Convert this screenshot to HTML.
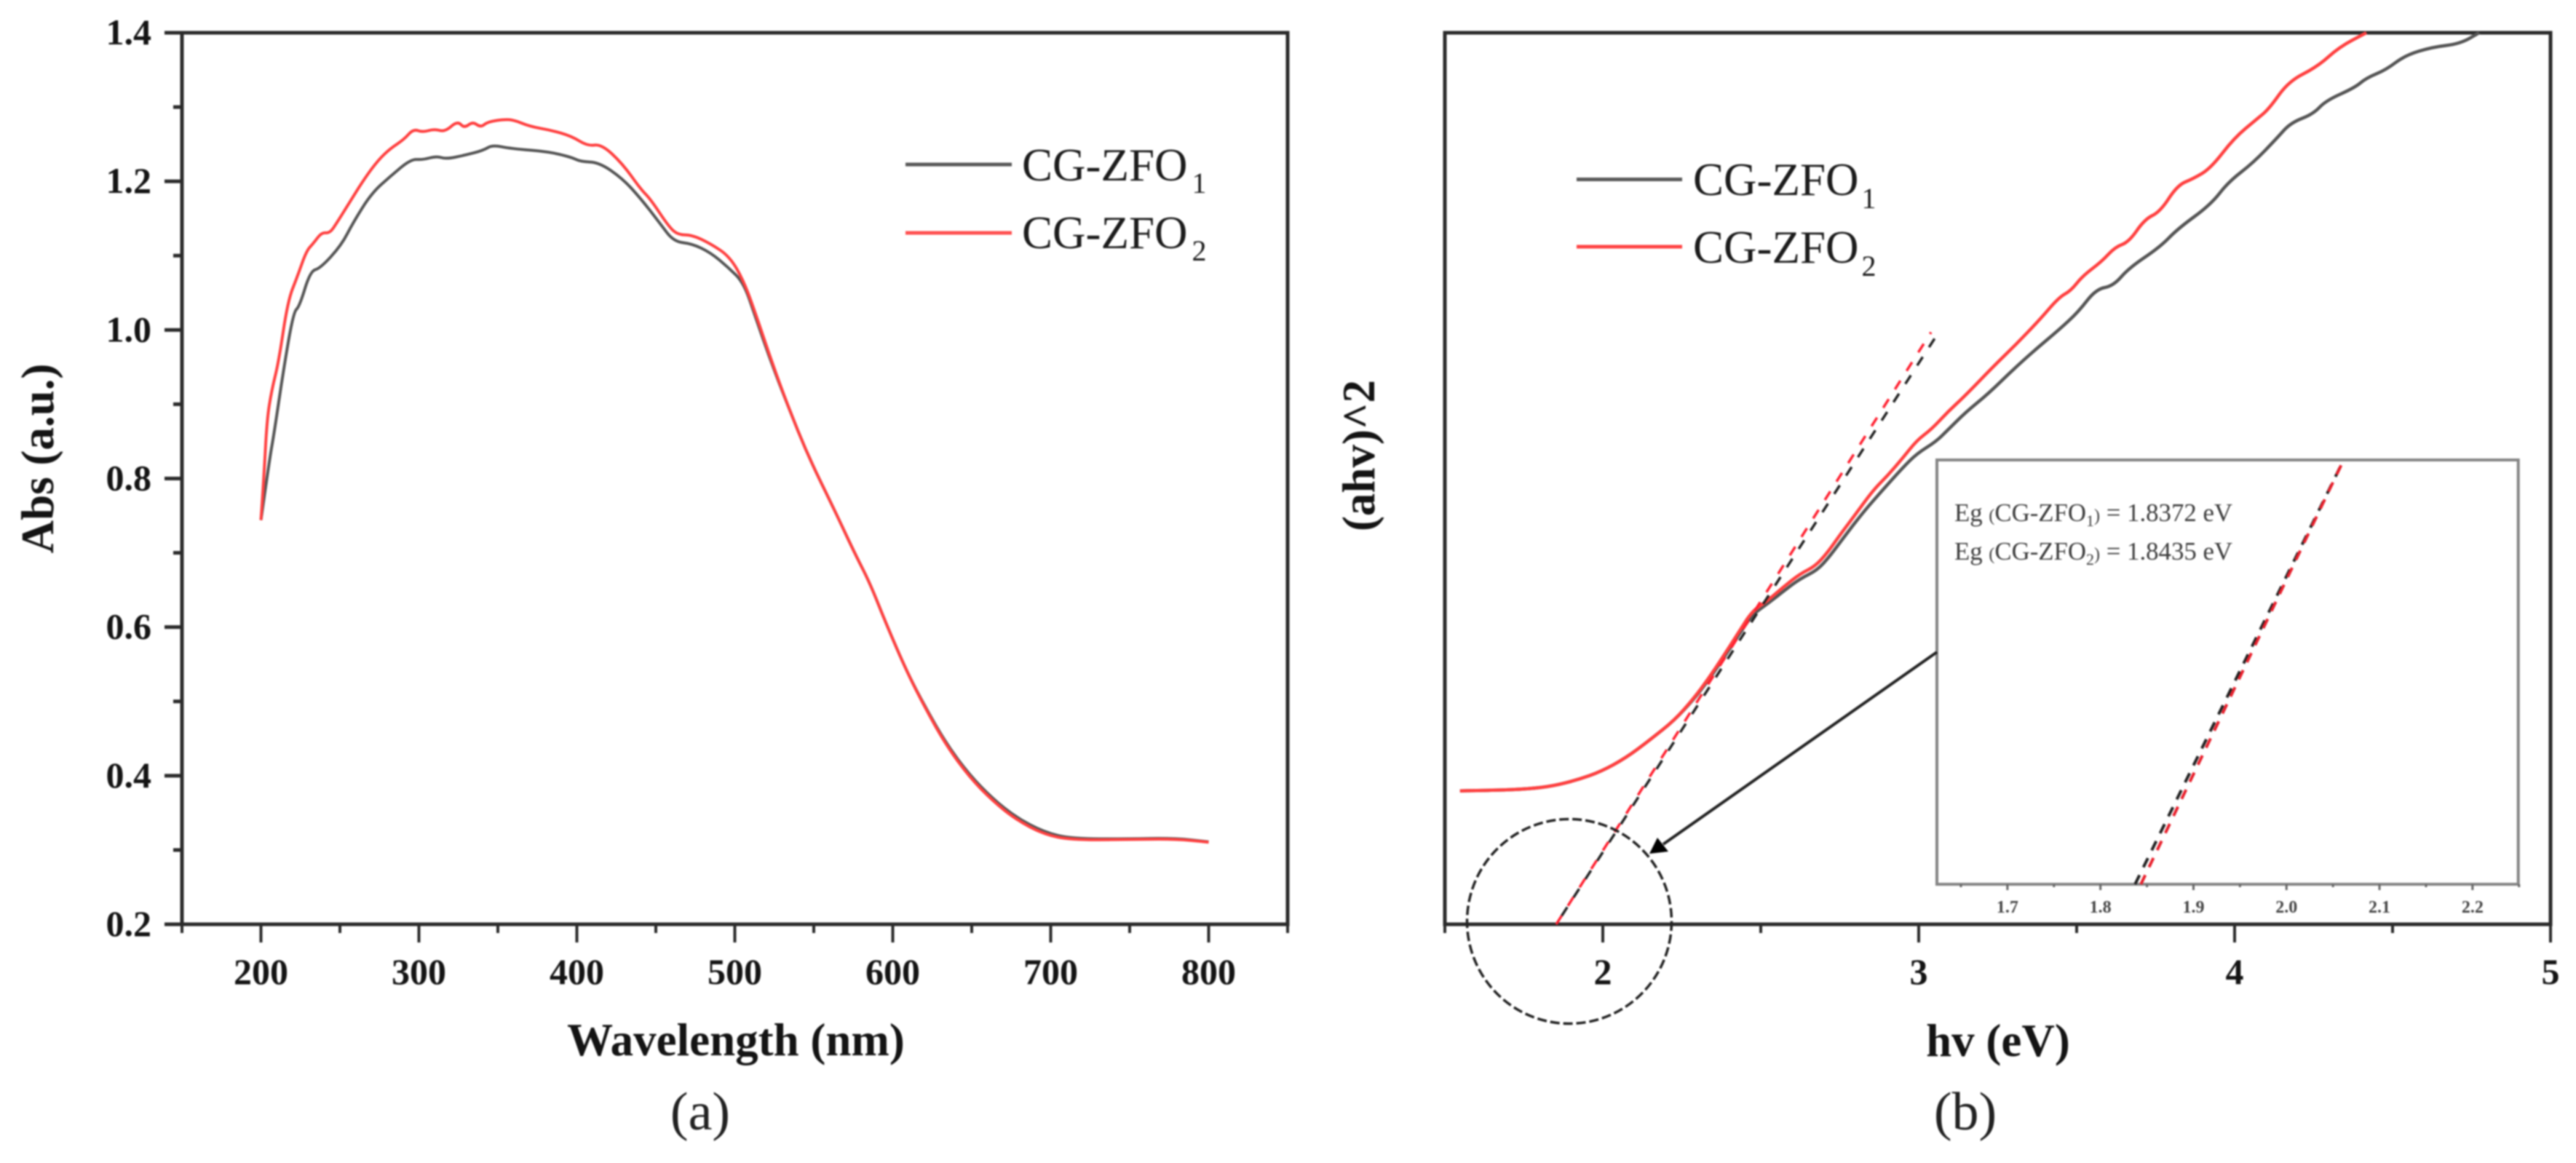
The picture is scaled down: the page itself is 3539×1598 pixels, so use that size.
<!DOCTYPE html>
<html lang="en">
<head>
<meta charset="utf-8">
<title>Absorbance and Tauc plots</title>
<style>
html,body{margin:0;padding:0;background:#fff;}
body{width:3539px;height:1598px;overflow:hidden;}
svg{display:block;filter:blur(1px);}
text{font-family:"Liberation Serif",serif;fill:#141414;}
.tick{font-size:50px;font-weight:bold;}
.title{font-size:63px;font-weight:bold;}
.panel{font-size:74px;fill:#222;}
.legend{font-size:63px;fill:#1c1c1c;}
.inset-note{font-size:34.8px;fill:#3c3c3c;}
</style>
</head>
<body>
<svg id="figure" xmlns="http://www.w3.org/2000/svg" width="3539" height="1598" viewBox="0 0 3539 1598">
  <rect x="0" y="0" width="3539" height="1598" fill="#ffffff"/>
  <g id="panel-a"></g>
  <g id="panel-b"></g>

  <text class="title" x="1011" y="1450" text-anchor="middle">Wavelength (nm)</text>
  <text class="title" transform="translate(73 630) rotate(-90)" text-anchor="middle">Abs (a.u.)</text>
  <text class="panel" x="962" y="1552" text-anchor="middle">(a)</text>

  <text class="title" x="2745" y="1451" text-anchor="middle">hv (eV)</text>
  <text class="title" transform="translate(1888 626) rotate(-90)" text-anchor="middle">(ahv)^2</text>
  <text class="panel" x="2700" y="1552" text-anchor="middle">(b)</text>

  <g>
    <line x1="1244" y1="226" x2="1390" y2="226" stroke="#5a5a5a" stroke-width="5"/>
    <text class="legend" x="1404" y="248">CG-ZFO<tspan font-size="40" dx="6" dy="17">1</tspan></text>
    <line x1="1244" y1="320" x2="1390" y2="320" stroke="#ff5050" stroke-width="5"/>
    <text class="legend" x="1404" y="341">CG-ZFO<tspan font-size="40" dx="6" dy="17">2</tspan></text>
  </g>
  <g>
    <line x1="2166" y1="246.5" x2="2311" y2="246.5" stroke="#5a5a5a" stroke-width="5"/>
    <text class="legend" x="2326" y="268">CG-ZFO<tspan font-size="40" dx="4" dy="18">1</tspan></text>
    <line x1="2166" y1="339" x2="2311" y2="339" stroke="#ff4545" stroke-width="5"/>
    <text class="legend" x="2326" y="361">CG-ZFO<tspan font-size="40" dx="4" dy="18">2</tspan></text>
  </g>

  <text class="inset-note" x="2685" y="716">Eg <tspan font-size="24">(</tspan>CG-ZFO<tspan font-size="22" dy="7">1</tspan><tspan font-size="24" dy="-7">)</tspan> = 1.8372 eV</text>
  <text class="inset-note" x="2685" y="769">Eg <tspan font-size="24">(</tspan>CG-ZFO<tspan font-size="22" dy="7">2</tspan><tspan font-size="24" dy="-7">)</tspan> = 1.8435 eV</text>

  <circle cx="2156" cy="1266" r="140.5" fill="none" stroke="#222" stroke-width="3.5" stroke-dasharray="13 5"/>
  <line x1="2661" y1="896" x2="2285" y2="1160" stroke="#222" stroke-width="4"/>
  <polygon points="2266,1173 2277,1151 2292,1170" fill="#000"/>
</svg>

<script>
// ---------- Panel (a): absorbance spectra ----------
const aXMajor = [200, 300, 400, 500, 600, 700, 800];
const aXMinor = [150, 250, 350, 450, 550, 650, 750, 850];
const aYMajor = [0.2, 0.4, 0.6, 0.8, 1.0, 1.2, 1.4];
const aYMinor = [0.3, 0.5, 0.7, 0.9, 1.1, 1.3];

const wavelengthRed = [200,201.8,203.8,206.8,211.2,217,223,228.8,233.2,238.5,243.5,248,255.3,265.6,274.4,281.8,290.6,296.5,302.4,309.7,316.5,324.4,328.8,334.1,339.1,343.5,352.4,359.7,370,383.2,396.5,406.8,415.6,428.8,440.6,446.5,458.2,464.1,472.9,484.7,496.7,505.5,512.8,523.1,533.4,546.7,562.8,576,585.4,595.7,608.9,620.7,633.9,648.6,663.3,678,695.7,713.3,748.6,778,800];
const absRed = [0.744,0.799,0.879,0.919,0.9565,1.039,1.0715,1.1065,1.1165,1.1315,1.13,1.144,1.169,1.204,1.229,1.244,1.2565,1.2705,1.266,1.2705,1.2665,1.2815,1.2715,1.2805,1.2725,1.28,1.283,1.283,1.274,1.269,1.261,1.2475,1.25,1.224,1.189,1.1765,1.139,1.128,1.128,1.116,1.099,1.0665,1.024,0.959,0.899,0.829,0.759,0.699,0.66,0.605,0.54,0.4905,0.4407,0.398,0.366,0.341,0.321,0.3135,0.314,0.315,0.3105];

const wavelengthGray = [200,205.3,208.2,214.1,220.6,224.4,231.2,237.6,250.9,258.2,270,281.8,295,302.4,311.2,317.1,328.8,340.6,346.5,358.2,381.8,396.5,402.4,414.1,428.8,440.6,452.4,461.2,472.9,484.7,495.9,505.5,512.8,523,533.4,546.7,562.8,576,585.4,595.7,608.9,620.7,633.9,648.6,663.3,678,695.7,713.3,748.6,778,800];
const absGray = [0.744,0.824,0.859,0.944,1.024,1.0315,1.079,1.083,1.114,1.144,1.184,1.2065,1.23,1.229,1.234,1.23,1.235,1.2415,1.249,1.244,1.24,1.2325,1.2265,1.2255,1.204,1.1765,1.144,1.119,1.116,1.104,1.084,1.064,1.019,0.9565,0.899,0.829,0.759,0.699,0.66,0.605,0.54,0.492,0.443,0.401,0.369,0.344,0.324,0.315,0.315,0.316,0.311];

// ---------- Panel (b): Tauc plot ----------
const bXMajor = [2, 3, 4, 5];
const bXMinor = [1.5, 2.5, 3.5, 4.5];

const hvRed = [1.548,1.656,1.765,1.842,1.919,1.995,2.072,2.149,2.226,2.287,2.333,2.379,2.426,2.472,2.518,2.571,2.625,2.671,2.71,2.748,2.794,2.856,2.902,2.948,2.994,3.04,3.094,3.148,3.234,3.308,3.382,3.444,3.481,3.518,3.579,3.622,3.665,3.715,3.764,3.819,3.869,3.924,3.998,4.072,4.109,4.171,4.263,4.331,4.417];
const tauRed = [14.96,15.03,15.18,15.51,16.19,17.14,18.64,20.68,22.86,25.31,27.48,29.93,32.52,35.1,36.19,37.82,39.32,40.13,41.63,43.54,45.71,48.71,50.34,52.24,54.28,55.51,57.55,59.32,62.49,65.04,67.77,70.32,71.05,72.69,74.33,75.97,76.52,79.07,79.91,82.9,83.63,84.79,88.18,90.37,91.46,94.56,96.2,98.39,100];

const hvGray = [1.548,1.656,1.765,1.842,1.919,1.995,2.072,2.149,2.226,2.287,2.333,2.379,2.426,2.472,2.525,2.579,2.625,2.679,2.717,2.763,2.825,2.886,2.948,2.994,3.055,3.094,3.148,3.222,3.296,3.37,3.444,3.505,3.561,3.616,3.665,3.764,3.819,3.924,3.98,4.06,4.134,4.177,4.25,4.288,4.38,4.417,4.479,4.54,4.626,4.713,4.774];
const tauGray = [14.96,15.03,15.18,15.51,16.19,17.14,18.64,20.68,22.86,25.2,27.3,29.7,32.2,34.7,36.05,37.55,38.77,39.73,41.22,43.4,46.26,48.71,51.16,52.79,54.15,55.51,57.41,59.57,62.12,64.49,66.68,68.68,71.24,71.6,73.6,75.97,77.98,80.71,83.26,85.45,88.18,89.89,90.91,92.37,93.83,94.92,95.84,97.47,98.39,98.75,100];

const fitHvGray = [1.8525, 3.069];
const fitTauGray = [0, 66.72];
const fitHvRed = [1.8525, 3.039];
const fitTauRed = [0, 66.4];

// ---------- Inset ----------
const inXMajor = ['1.7','1.8','1.9','2.0','2.1','2.2'];
const inXMinor = [1.65,1.75,1.85,1.95,2.05,2.15,2.25];
const inFitHvGray = [1.8372, 2.0615];
const inFitHvRed = [1.8435, 2.0615];
const inFitLevel = [0, 1];

// ---------- Scales ----------
function linear(d0, d1, r0, r1) {
  return function (v) { return r0 + (v - d0) * (r1 - r0) / (d1 - d0); };
}
const xA = linear(150, 850, 250, 1769);
const yA = linear(0.2, 1.4, 1270, 45);
const xB = linear(1.5, 5, 1985, 3504);
const yB = linear(0, 100, 1270, 45);
const xI = linear(1.6242, 2.2492, 2661, 3459.7);
const yI = linear(0, 1, 1215, 632);

const NS = 'http://www.w3.org/2000/svg';
const panelA = document.getElementById('panel-a');
const panelB = document.getElementById('panel-b');

function mk(parent, tag, props) {
  const node = document.createElementNS(NS, tag);
  for (const k in props) node.setAttribute(k, props[k]);
  parent.appendChild(node);
  return node;
}
function pointsOf(xs, ys, fx, fy) {
  return xs.map(function (v, i) { return fx(v).toFixed(1) + ',' + fy(ys[i]).toFixed(1); }).join(' ');
}
// Smooth line through the data: quadratic segments between point midpoints.
function smoothPath(xs, ys, fx, fy) {
  const px = xs.map(fx);
  const py = ys.map(fy);
  let d = 'M' + px[0].toFixed(1) + ' ' + py[0].toFixed(1);
  for (let i = 1; i < px.length - 1; i++) {
    const mx = (px[i] + px[i + 1]) / 2;
    const my = (py[i] + py[i + 1]) / 2;
    d += 'Q' + px[i].toFixed(1) + ' ' + py[i].toFixed(1) + ' ' + mx.toFixed(1) + ' ' + my.toFixed(1);
  }
  const n = px.length - 1;
  d += 'L' + px[n].toFixed(1) + ' ' + py[n].toFixed(1);
  return d;
}

// Frames
function frame(parent, x0, y0, x1, y1) {
  const el = mk(parent, 'rect', { x: x0, y: y0, width: x1 - x0, height: y1 - y0, fill: 'none', stroke: '#2b2b2b', 'stroke-width': 5 });
  
  
}
frame(panelA, xA(150), yA(1.4), xA(850), yA(0.2));
frame(panelB, xB(1.5), yB(100), xB(5), yB(0));

// Panel a ticks
aXMajor.forEach(function (v) {
  const t = mk(panelA, 'line', { x1: xA(v), x2: xA(v), y1: 1270, y2: 1295, stroke: '#2b2b2b', 'stroke-width': 4 });
  
  
  const l = mk(panelA, 'text', { class: 'tick', x: xA(v), y: 1352, 'text-anchor': 'middle' });
  l.textContent = String(v);
  
  
});
aXMinor.forEach(function (v) {
  const t = mk(panelA, 'line', { x1: xA(v), x2: xA(v), y1: 1270, y2: 1282, stroke: '#2b2b2b', 'stroke-width': 4 });
  
  
});
aYMajor.forEach(function (v) {
  const t = mk(panelA, 'line', { x1: 226, x2: 250, y1: yA(v), y2: yA(v), stroke: '#2b2b2b', 'stroke-width': 5 });
  
  
  const l = mk(panelA, 'text', { class: 'tick', x: 208, y: yA(v) + 16, 'text-anchor': 'end' });
  l.textContent = v.toFixed(1);
  
  
});
aYMinor.forEach(function (v) {
  const t = mk(panelA, 'line', { x1: 238, x2: 250, y1: yA(v), y2: yA(v), stroke: '#2b2b2b', 'stroke-width': 5 });
  
  
});

// Panel a series
const aGray = mk(panelA, 'path', { d: smoothPath(wavelengthGray, absGray, xA, yA), fill: 'none', stroke: '#555', 'stroke-width': 4, 'stroke-linejoin': 'round' });


const aRed = mk(panelA, 'path', { d: smoothPath(wavelengthRed, absRed, xA, yA), fill: 'none', stroke: '#ff4040', 'stroke-width': 4, 'stroke-linejoin': 'round' });



// Panel b ticks
bXMajor.forEach(function (v) {
  const t = mk(panelB, 'line', { x1: xB(v), x2: xB(v), y1: 1270, y2: 1295, stroke: '#2b2b2b', 'stroke-width': 4 });
  
  
  const l = mk(panelB, 'text', { class: 'tick', x: xB(v), y: 1352, 'text-anchor': 'middle' });
  l.textContent = String(v);
  
  
});
bXMinor.forEach(function (v) {
  const t = mk(panelB, 'line', { x1: xB(v), x2: xB(v), y1: 1270, y2: 1282, stroke: '#2b2b2b', 'stroke-width': 4 });
  
  
});

// Panel b series
const bGray = mk(panelB, 'path', { d: smoothPath(hvGray, tauGray, xB, yB), fill: 'none', stroke: '#555', 'stroke-width': 4.5, 'stroke-linejoin': 'round' });


const bRed = mk(panelB, 'path', { d: smoothPath(hvRed, tauRed, xB, yB), fill: 'none', stroke: '#ff4040', 'stroke-width': 4.5, 'stroke-linejoin': 'round' });



const fitGray = mk(panelB, 'polyline', { points: pointsOf(fitHvGray, fitTauGray, xB, yB), fill: 'none', stroke: '#222', 'stroke-width': 3.5, 'stroke-dasharray': '14 16', 'stroke-dashoffset': -14 });


const fitRed = mk(panelB, 'polyline', { points: pointsOf(fitHvRed, fitTauRed, xB, yB), fill: 'none', stroke: '#ff2030', 'stroke-width': 3.5, 'stroke-dasharray': '14 16' });



// Inset
const insetBox = mk(panelB, 'rect', { x: 2661, y: 632, width: 798.7, height: 583, fill: '#fff', stroke: '#858585', 'stroke-width': 4 });


inXMajor.forEach(function (s) {
  const v = parseFloat(s);
  const t = mk(panelB, 'line', { x1: xI(v), x2: xI(v), y1: 1215, y2: 1223, stroke: '#666', 'stroke-width': 3 });
  
  
  const l = mk(panelB, 'text', { x: xI(v), y: 1254, 'text-anchor': 'middle', 'font-size': 24, 'font-weight': 'bold', style: 'fill:#444' });
  l.textContent = s;
  
  
});
inXMinor.forEach(function (v) {
  const t = mk(panelB, 'line', { x1: xI(v), x2: xI(v), y1: 1215, y2: 1219, stroke: '#666', 'stroke-width': 3 });
  
  
});
const inGray = mk(panelB, 'polyline', { points: pointsOf(inFitHvGray, inFitLevel, xI, yI), fill: 'none', stroke: '#222', 'stroke-width': 4, 'stroke-dasharray': '14 12' });


const inRed = mk(panelB, 'polyline', { points: pointsOf(inFitHvRed, inFitLevel, xI, yI), fill: 'none', stroke: '#e8202c', 'stroke-width': 4, 'stroke-dasharray': '14 12' });


</script>
</body>
</html>
